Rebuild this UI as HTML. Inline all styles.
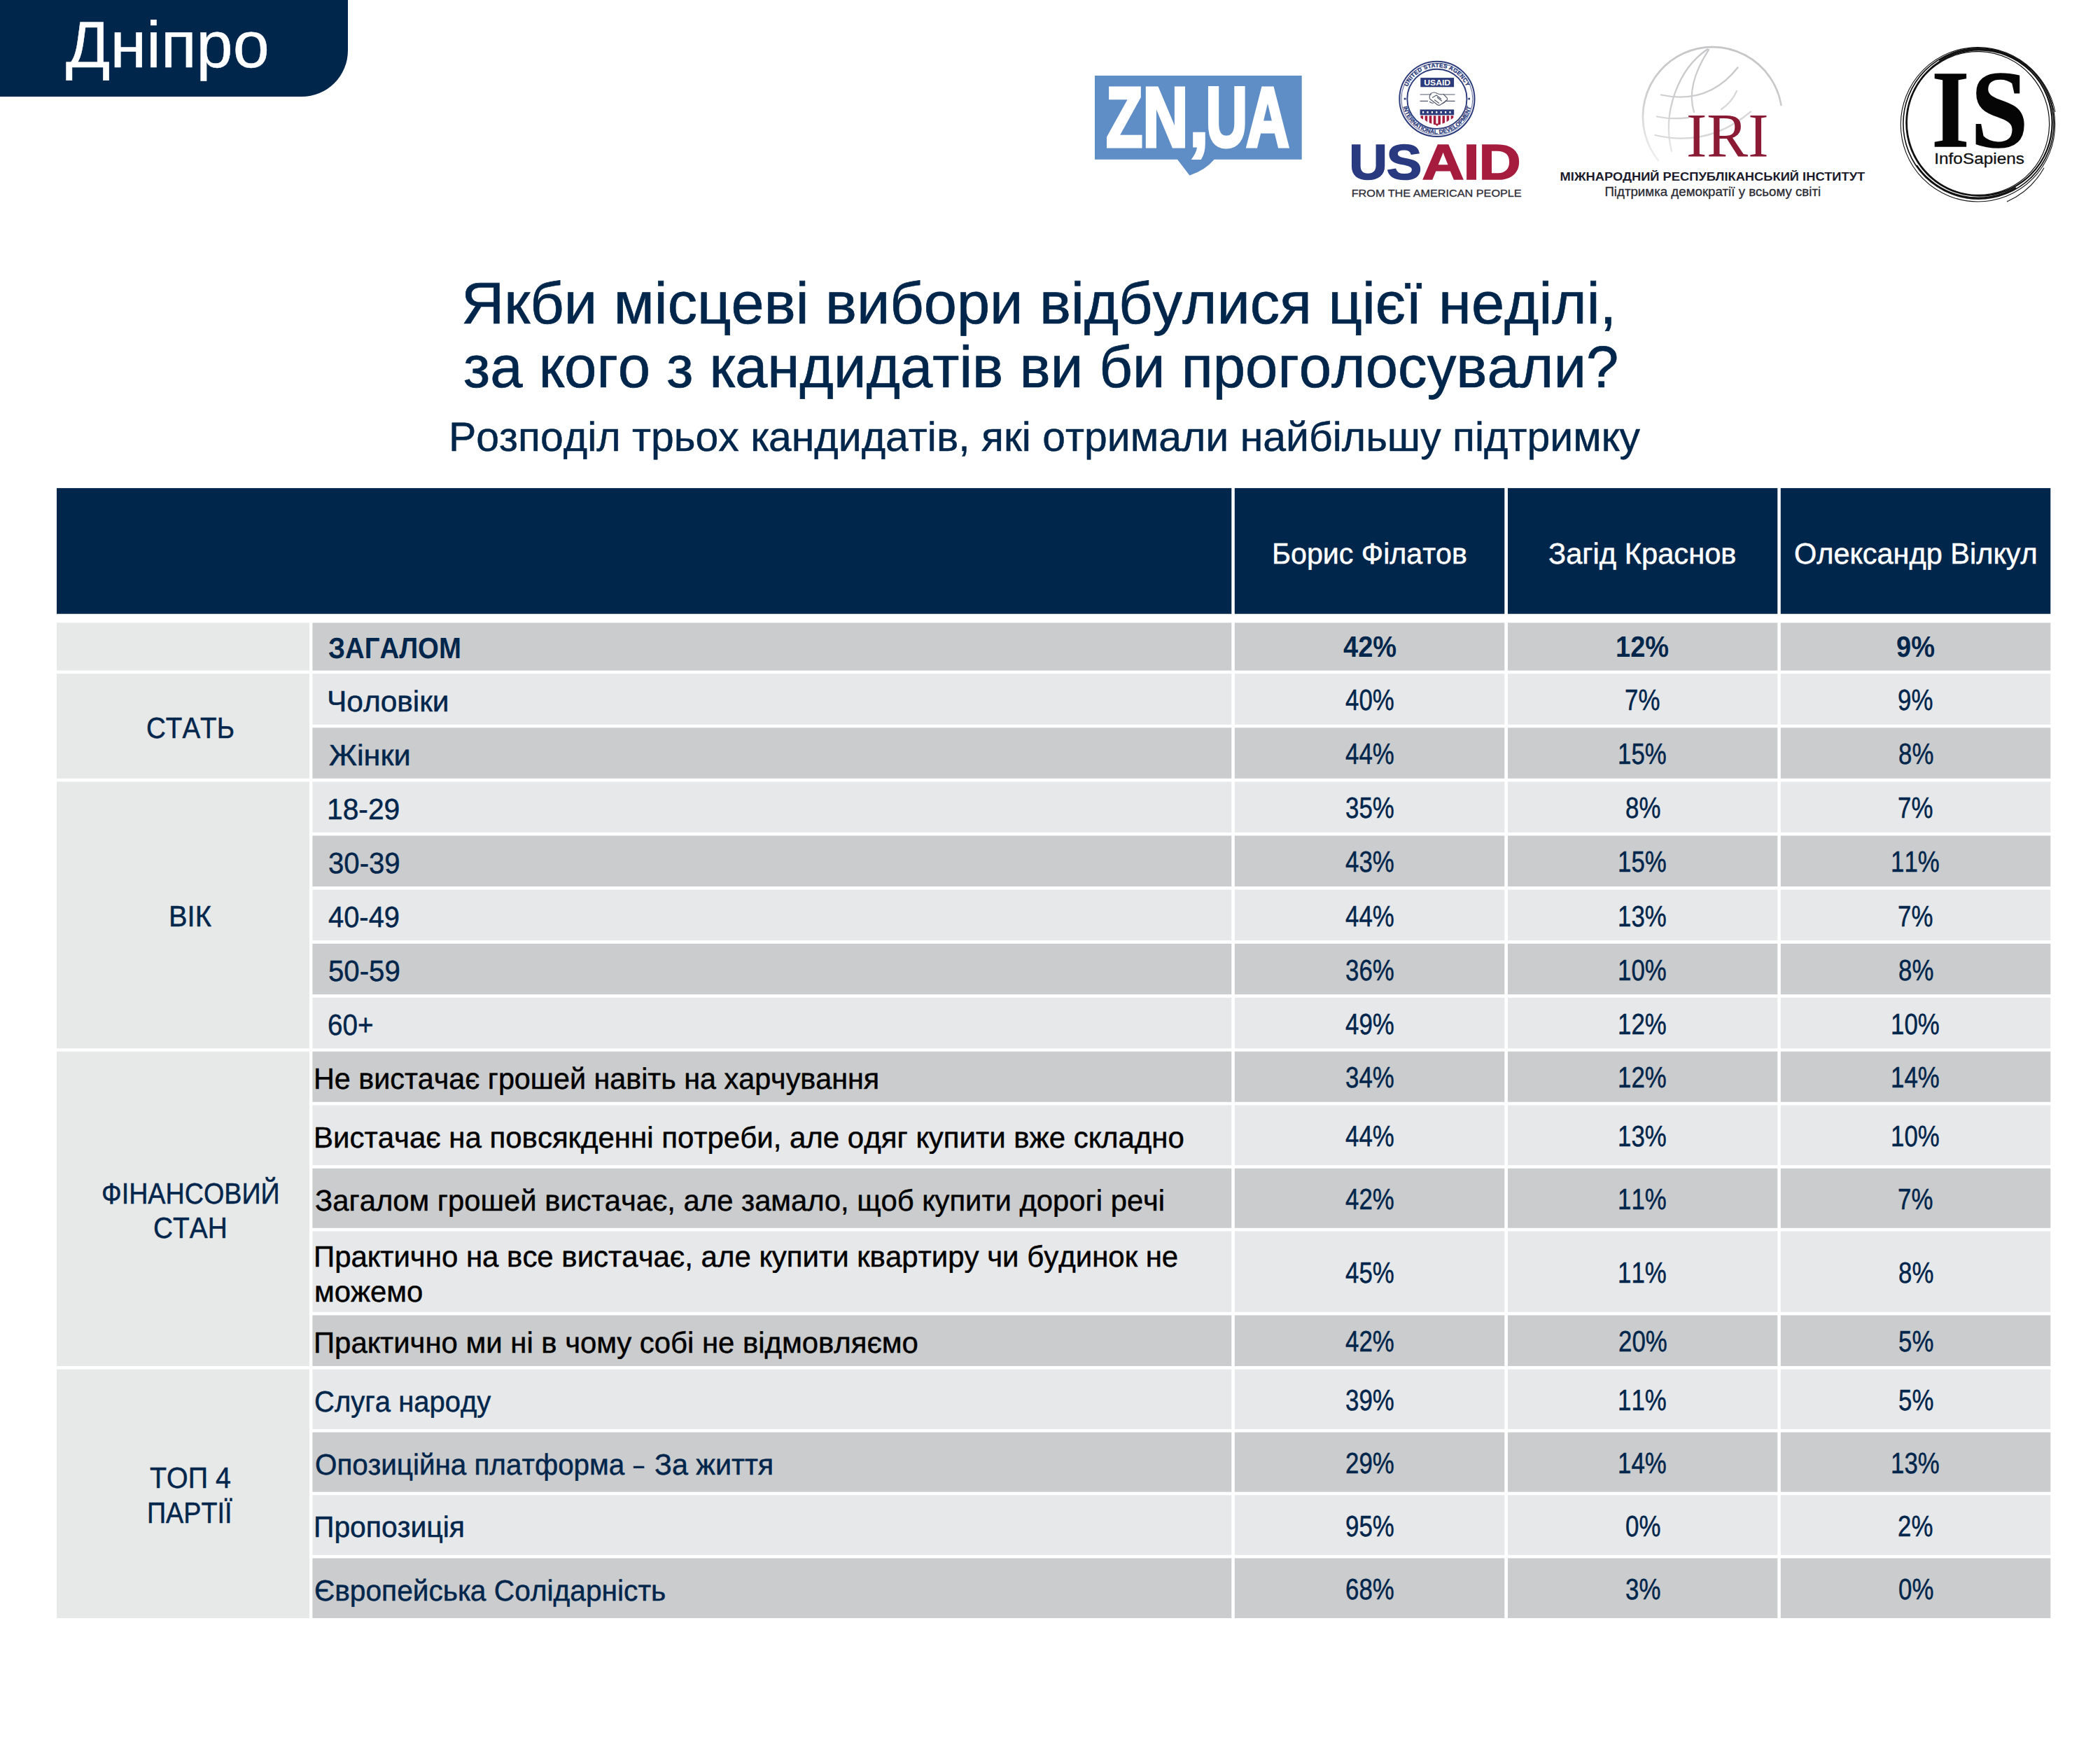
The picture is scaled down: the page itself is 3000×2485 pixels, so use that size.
<!DOCTYPE html>
<html lang="uk">
<head>
<meta charset="utf-8">
<title>Дніпро</title>
<style>
html,body{margin:0;padding:0;background:#fff;}
body{width:3000px;height:2485px;position:relative;overflow:hidden;font-family:"Liberation Sans",sans-serif;color:#00264b;}
.tab{position:absolute;left:0;top:0;width:496.8px;height:138.1px;background:#00264b;border-bottom-right-radius:66px;}
svg.bg{position:absolute;left:0;top:0;}
.t{position:absolute;white-space:nowrap;font-kerning:none;text-rendering:geometricPrecision;line-height:0;height:0;transform-origin:0 0;-webkit-text-stroke:0.5px currentColor;}
.b{-webkit-text-stroke:0;}
.h{-webkit-text-stroke:0.7px currentColor;}
.s{-webkit-text-stroke:0.5px currentColor;}
</style>
</head>
<body>
<div class="tab"></div>
<svg class="bg" width="3000" height="2485" viewBox="0 0 3000 2485">
<rect x="81.0" y="697.1" width="1678.3" height="179.6" fill="#00264b"/>
<rect x="1763.8" y="697.1" width="385.5" height="179.6" fill="#00264b"/>
<rect x="2154.0" y="697.1" width="385.3" height="179.6" fill="#00264b"/>
<rect x="2543.8" y="697.1" width="385.5" height="179.6" fill="#00264b"/>
<rect x="81.0" y="889.4" width="361.0" height="68.2" fill="#e7e8e8"/>
<rect x="81.0" y="962.2" width="361.0" height="149.6" fill="#e7e8e8"/>
<rect x="81.0" y="1116.4" width="361.0" height="380.9" fill="#e7e8e8"/>
<rect x="81.0" y="1501.7" width="361.0" height="449.3" fill="#e7e8e8"/>
<rect x="81.0" y="1955.6" width="361.0" height="355.4" fill="#e7e8e8"/>
<rect x="446.4" y="889.4" width="1312.9" height="68.2" fill="#cbccce"/>
<rect x="1763.8" y="889.4" width="385.5" height="68.2" fill="#cbccce"/>
<rect x="2154.0" y="889.4" width="385.3" height="68.2" fill="#cbccce"/>
<rect x="2543.8" y="889.4" width="385.5" height="68.2" fill="#cbccce"/>
<rect x="446.4" y="962.2" width="1312.9" height="72.6" fill="#e7e8ea"/>
<rect x="1763.8" y="962.2" width="385.5" height="72.6" fill="#e7e8ea"/>
<rect x="2154.0" y="962.2" width="385.3" height="72.6" fill="#e7e8ea"/>
<rect x="2543.8" y="962.2" width="385.5" height="72.6" fill="#e7e8ea"/>
<rect x="446.4" y="1039.3" width="1312.9" height="72.5" fill="#cbccce"/>
<rect x="1763.8" y="1039.3" width="385.5" height="72.5" fill="#cbccce"/>
<rect x="2154.0" y="1039.3" width="385.3" height="72.5" fill="#cbccce"/>
<rect x="2543.8" y="1039.3" width="385.5" height="72.5" fill="#cbccce"/>
<rect x="446.4" y="1116.4" width="1312.9" height="72.5" fill="#e7e8ea"/>
<rect x="1763.8" y="1116.4" width="385.5" height="72.5" fill="#e7e8ea"/>
<rect x="2154.0" y="1116.4" width="385.3" height="72.5" fill="#e7e8ea"/>
<rect x="2543.8" y="1116.4" width="385.5" height="72.5" fill="#e7e8ea"/>
<rect x="446.4" y="1193.5" width="1312.9" height="72.5" fill="#cbccce"/>
<rect x="1763.8" y="1193.5" width="385.5" height="72.5" fill="#cbccce"/>
<rect x="2154.0" y="1193.5" width="385.3" height="72.5" fill="#cbccce"/>
<rect x="2543.8" y="1193.5" width="385.5" height="72.5" fill="#cbccce"/>
<rect x="446.4" y="1270.6" width="1312.9" height="72.5" fill="#e7e8ea"/>
<rect x="1763.8" y="1270.6" width="385.5" height="72.5" fill="#e7e8ea"/>
<rect x="2154.0" y="1270.6" width="385.3" height="72.5" fill="#e7e8ea"/>
<rect x="2543.8" y="1270.6" width="385.5" height="72.5" fill="#e7e8ea"/>
<rect x="446.4" y="1347.7" width="1312.9" height="72.5" fill="#cbccce"/>
<rect x="1763.8" y="1347.7" width="385.5" height="72.5" fill="#cbccce"/>
<rect x="2154.0" y="1347.7" width="385.3" height="72.5" fill="#cbccce"/>
<rect x="2543.8" y="1347.7" width="385.5" height="72.5" fill="#cbccce"/>
<rect x="446.4" y="1424.8" width="1312.9" height="72.5" fill="#e7e8ea"/>
<rect x="1763.8" y="1424.8" width="385.5" height="72.5" fill="#e7e8ea"/>
<rect x="2154.0" y="1424.8" width="385.3" height="72.5" fill="#e7e8ea"/>
<rect x="2543.8" y="1424.8" width="385.5" height="72.5" fill="#e7e8ea"/>
<rect x="446.4" y="1501.7" width="1312.9" height="72.1" fill="#cbccce"/>
<rect x="1763.8" y="1501.7" width="385.5" height="72.1" fill="#cbccce"/>
<rect x="2154.0" y="1501.7" width="385.3" height="72.1" fill="#cbccce"/>
<rect x="2543.8" y="1501.7" width="385.5" height="72.1" fill="#cbccce"/>
<rect x="446.4" y="1578.4" width="1312.9" height="85.7" fill="#e7e8ea"/>
<rect x="1763.8" y="1578.4" width="385.5" height="85.7" fill="#e7e8ea"/>
<rect x="2154.0" y="1578.4" width="385.3" height="85.7" fill="#e7e8ea"/>
<rect x="2543.8" y="1578.4" width="385.5" height="85.7" fill="#e7e8ea"/>
<rect x="446.4" y="1668.7" width="1312.9" height="85.1" fill="#cbccce"/>
<rect x="1763.8" y="1668.7" width="385.5" height="85.1" fill="#cbccce"/>
<rect x="2154.0" y="1668.7" width="385.3" height="85.1" fill="#cbccce"/>
<rect x="2543.8" y="1668.7" width="385.5" height="85.1" fill="#cbccce"/>
<rect x="446.4" y="1758.4" width="1312.9" height="115.4" fill="#e7e8ea"/>
<rect x="1763.8" y="1758.4" width="385.5" height="115.4" fill="#e7e8ea"/>
<rect x="2154.0" y="1758.4" width="385.3" height="115.4" fill="#e7e8ea"/>
<rect x="2543.8" y="1758.4" width="385.5" height="115.4" fill="#e7e8ea"/>
<rect x="446.4" y="1878.4" width="1312.9" height="72.6" fill="#cbccce"/>
<rect x="1763.8" y="1878.4" width="385.5" height="72.6" fill="#cbccce"/>
<rect x="2154.0" y="1878.4" width="385.3" height="72.6" fill="#cbccce"/>
<rect x="2543.8" y="1878.4" width="385.5" height="72.6" fill="#cbccce"/>
<rect x="446.4" y="1955.6" width="1312.9" height="85.4" fill="#e7e8ea"/>
<rect x="1763.8" y="1955.6" width="385.5" height="85.4" fill="#e7e8ea"/>
<rect x="2154.0" y="1955.6" width="385.3" height="85.4" fill="#e7e8ea"/>
<rect x="2543.8" y="1955.6" width="385.5" height="85.4" fill="#e7e8ea"/>
<rect x="446.4" y="2045.6" width="1312.9" height="85.1" fill="#cbccce"/>
<rect x="1763.8" y="2045.6" width="385.5" height="85.1" fill="#cbccce"/>
<rect x="2154.0" y="2045.6" width="385.3" height="85.1" fill="#cbccce"/>
<rect x="2543.8" y="2045.6" width="385.5" height="85.1" fill="#cbccce"/>
<rect x="446.4" y="2135.3" width="1312.9" height="85.5" fill="#e7e8ea"/>
<rect x="1763.8" y="2135.3" width="385.5" height="85.5" fill="#e7e8ea"/>
<rect x="2154.0" y="2135.3" width="385.3" height="85.5" fill="#e7e8ea"/>
<rect x="2543.8" y="2135.3" width="385.5" height="85.5" fill="#e7e8ea"/>
<rect x="446.4" y="2225.4" width="1312.9" height="85.6" fill="#cbccce"/>
<rect x="1763.8" y="2225.4" width="385.5" height="85.6" fill="#cbccce"/>
<rect x="2154.0" y="2225.4" width="385.3" height="85.6" fill="#cbccce"/>
<rect x="2543.8" y="2225.4" width="385.5" height="85.6" fill="#cbccce"/>
<!-- ZN,UA -->
<g id="znua">
<path d="M1564 107.9H1859.7V227.8H1734.6Q1722 243 1699.4 250.6L1682 227.8H1564Z" fill="#5f8dc6"/>
<g font-family="'Liberation Sans',sans-serif" font-weight="700" font-size="120" fill="#fff" stroke="#fff" stroke-width="5" stroke-linejoin="miter">
<text transform="translate(1580.3,209.3) scale(0.708,1)">Z</text>
<text transform="translate(1632.8,209.3) scale(0.744,1)">N</text>
<text transform="translate(1699.5,207.5) scale(0.8,0.95)">,</text>
<text transform="translate(1722.8,209.3) scale(0.682,1)">U</text>
<text transform="translate(1780.3,209.3) scale(0.71,1)">A</text>
</g>
</g>
<!-- USAID -->
<g id="usaid" font-family="'Liberation Sans',sans-serif">
<circle cx="2052.9" cy="141.3" r="53.6" fill="#fff" stroke="#2a3a7a" stroke-width="2"/>
<circle cx="2052.9" cy="141.3" r="51" fill="none" stroke="#2a3a7a" stroke-width="0.8"/>
<circle cx="2052.9" cy="141.3" r="42.6" fill="none" stroke="#2a3a7a" stroke-width="1.9"/>
<path id="usTop" d="M2007.5 141.3A45.4 45.4 0 0 1 2098.3 141.3" fill="none"/>
<path id="usBot" d="M2003.2 141.3A49.7 49.7 0 0 0 2102.6 141.3" fill="none"/>
<text font-size="8.2" font-weight="700" fill="#2a3a7a" stroke="#2a3a7a" stroke-width="0.3" letter-spacing="0.3"><textPath href="#usTop" startOffset="50%" text-anchor="middle">UNITED STATES AGENCY</textPath></text>
<text font-size="8.2" font-weight="700" fill="#2a3a7a" stroke="#2a3a7a" stroke-width="0.3" letter-spacing="0.1"><textPath href="#usBot" startOffset="50%" text-anchor="middle">INTERNATIONAL DEVELOPMENT</textPath></text>
<rect x="2005.8" y="139.8" width="2.6" height="2.6" fill="#2a3a7a"/><rect x="2097.4" y="139.8" width="2.6" height="2.6" fill="#2a3a7a"/>
<rect x="2029.3" y="111.1" width="47.8" height="13.2" fill="#2a3a7a"/>
<text x="2053.2" y="122.2" font-size="11.6" font-weight="700" fill="#fff" text-anchor="middle" textLength="38" lengthAdjust="spacingAndGlyphs">USAID</text>
<g stroke="#555a6e" stroke-width="1.15" fill="none">
<path d="M2028.6 135H2045M2062 135H2078.6M2028.6 144.3H2040M2066 144.3H2078.6"/>
<path d="M2044 133.5q5-3 9 0q5 2 9 1l5 5q2 3-2 5l-7 5q-3 2-6-1l-9-7q-2-3 1-8z"/>
<path d="M2046 139.5l6-3.5l7 5.5M2049 142.5l7 5M2053 139l7 5.5M2042 145q3 3 6 2M2060 148q4-1 6-5"/>
</g>
<rect x="2028.6" y="156.4" width="48.6" height="7.9" fill="#2a3a7a"/>
<g fill="#fff"><rect x="2032" y="159" width="2.2" height="2.6"/><rect x="2038.4" y="159" width="2.2" height="2.6"/><rect x="2044.8" y="159" width="2.2" height="2.6"/><rect x="2051.2" y="159" width="2.2" height="2.6"/><rect x="2057.6" y="159" width="2.2" height="2.6"/><rect x="2064" y="159" width="2.2" height="2.6"/><rect x="2070.4" y="159" width="2.2" height="2.6"/></g>
<g fill="#a51c3f">
<path d="M2029.5 165.2h3.6v5.5l-3.6-2.5z"/><path d="M2035.6 165.2h3.6v9l-3.6-2.6z"/><path d="M2041.7 165.2h3.6v11.6l-3.6-1.6z"/><path d="M2047.8 165.2h3.6v13.2l-3.6-1z"/>
<path d="M2072.7 165.2h3.6v3l-3.6 2.5z"/><path d="M2066.6 165.2h3.6v6.4l-3.6 2.6z"/><path d="M2060.5 165.2h3.6v10l-3.6 1.6z"/><path d="M2054.4 165.2h3.6v12.2l-3.6 1z"/>
<path d="M2051 176.5h3.8v1.6l-1.9 2.2l-1.9-2.2z"/>
</g>
<text transform="translate(1927.2,256.3) scale(1.083,1)" font-size="70" font-weight="700" fill="#2a3a80" stroke="#2a3a80" stroke-width="1.6" letter-spacing="-1">US</text>
<text transform="translate(2031.6,256.3) scale(1.19,1)" font-size="70" font-weight="700" fill="#a51c3f" stroke="#a51c3f" stroke-width="1.6" letter-spacing="-1">AID</text>
<text x="1930.7" y="281.4" font-size="14.5" fill="#2e2e38" stroke="#2e2e38" stroke-width="0.3" textLength="243" lengthAdjust="spacingAndGlyphs">FROM THE AMERICAN PEOPLE</text>
</g>
<!-- IRI -->
<g id="iri">
<linearGradient id="gl" gradientUnits="userSpaceOnUse" x1="2440" y1="70" x2="2400" y2="236"><stop offset="0" stop-color="#c6c6c8"/><stop offset="0.55" stop-color="#cfcfd1"/><stop offset="1" stop-color="#efeff0"/></linearGradient>
<g fill="none" stroke="url(#gl)" stroke-width="2.3" stroke-linecap="round">
<path d="M2369.1 229.3A99.5 99.5 0 1 1 2544.5 149.9" stroke-width="2.7"/>
<path d="M2439 70.5C2398 98 2374 160 2388 216"/>
<path d="M2441 71Q2408 122 2420 160"/>
<path d="M2373 135.5Q2440 150 2482.5 96.5"/>
<path d="M2367 166.5Q2388 171 2412 168"/>
<path d="M2459 156Q2474 146 2481 130" stroke="#d8d8da"/>
<path d="M2364.5 193Q2440 211 2501 159.5" stroke="#d8d8da"/>
</g>
<text x="2409" y="222.6" font-family="'Liberation Serif',serif" font-size="89" fill="#8b1a35" textLength="117.5" lengthAdjust="spacingAndGlyphs">IRI</text>
<text x="2228.6" y="258.3" font-family="'Liberation Sans',sans-serif" font-weight="700" font-size="17.2" fill="#1b1b2b" textLength="435.7" lengthAdjust="spacingAndGlyphs">МІЖНАРОДНИЙ РЕСПУБЛІКАНСЬКИЙ ІНСТИТУТ</text>
<text x="2292.4" y="280" font-family="'Liberation Sans',sans-serif" font-size="18.6" fill="#2a2a33" stroke="#2a2a33" stroke-width="0.3" textLength="308.8" lengthAdjust="spacingAndGlyphs">Підтримка демократії у всьому світі</text>
</g>
<!-- InfoSapiens -->
<g id="infosapiens">
<g fill="none" stroke="#111">
<circle cx="2826.5" cy="176.5" r="107.6" stroke-width="1.6"/>
<circle cx="2827.5" cy="175.5" r="104.2" stroke-width="2.2"/>
<circle cx="2825.5" cy="177.8" r="110.2" stroke-width="1.1"/>
<ellipse cx="2826" cy="176" rx="101.5" ry="102.6" stroke-width="1.2" transform="rotate(-20 2826 176)"/>
<path d="M2770 86A106 106 0 0 1 2900 100" stroke-width="2.4"/>
<path d="M2738 236A106.5 106.5 0 0 0 2880 268" stroke-width="2.2"/>
<path d="M2920 239.7A113 113 0 0 1 2867 288" stroke-width="1.1"/>
<path d="M2893 91A112 112 0 0 1 2936 160" stroke-width="1"/>
</g>
<text transform="translate(2759.8,208.8) scale(0.879,1)" font-family="'Liberation Serif',serif" font-weight="700" font-size="156" fill="#050505" stroke="#050505" stroke-width="1.5">I</text>
<text transform="translate(2815.6,208.8) scale(0.942,1)" font-family="'Liberation Serif',serif" font-weight="700" font-size="156" fill="#050505" stroke="#050505" stroke-width="1.5">S</text>
<text x="2763.3" y="234.2" font-family="'Liberation Sans',sans-serif" font-size="22.6" fill="#111" stroke="#111" stroke-width="0.3" textLength="128.6" lengthAdjust="spacingAndGlyphs">InfoSapiens</text>
</g>

</svg>
<div class="t" style="left:94.01px;top:63.59px;font-size:93.5px;color:#fff;transform:scaleX(1.0012);">Дніпро</div>
<div class="t h" style="left:659.03px;top:433.48px;font-size:84px;transform:scaleX(1.0084);">Якби місцеві вибори відбулися цієї неділі,</div>
<div class="t h" style="left:661.51px;top:523.98px;font-size:84px;transform:scaleX(0.9915);">за кого з кандидатів ви би проголосували?</div>
<div class="t s" style="left:641.26px;top:625.32px;font-size:58.5px;transform:scaleX(1.0076);">Розподіл трьох кандидатів, які отримали найбільшу підтримку</div>
<div class="t" style="left:1817.42px;top:791.14px;font-size:42px;color:#fff;transform:scaleX(0.9804);">Борис Філатов</div>
<div class="t" style="left:2212.44px;top:791.14px;font-size:42px;color:#fff;transform:scaleX(0.9921);">Загід Краснов</div>
<div class="t" style="left:2562.83px;top:791.14px;font-size:42px;color:#fff;transform:scaleX(0.9884);">Олександр Вілкул</div>
<div class="t b" style="left:469.34px;top:925.64px;font-size:42px;font-weight:700;transform:scaleX(0.9135);">ЗАГАЛОМ</div>
<div class="t b" style="left:1919.03px;top:923.94px;font-size:42px;font-weight:700;transform:scaleX(0.9050);">42%</div>
<div class="t b" style="left:2308.22px;top:923.94px;font-size:42px;font-weight:700;transform:scaleX(0.9050);">12%</div>
<div class="t b" style="left:2709.22px;top:923.94px;font-size:42px;font-weight:700;transform:scaleX(0.9050);">9%</div>
<div class="t" style="left:466.88px;top:1001.94px;font-size:42px;transform:scaleX(1.0108);">Чоловіки</div>
<div class="t" style="left:1922.19px;top:1000.24px;font-size:42px;transform:scaleX(0.8300);">40%</div>
<div class="t" style="left:2321.49px;top:1000.24px;font-size:42px;transform:scaleX(0.8300);">7%</div>
<div class="t" style="left:2711.46px;top:1000.24px;font-size:42px;transform:scaleX(0.8300);">9%</div>
<div class="t" style="left:469.61px;top:1078.99px;font-size:42px;transform:scaleX(1.0314);">Жінки</div>
<div class="t" style="left:1922.19px;top:1077.29px;font-size:42px;transform:scaleX(0.8300);">44%</div>
<div class="t" style="left:2311.36px;top:1077.29px;font-size:42px;transform:scaleX(0.8300);">15%</div>
<div class="t" style="left:2711.52px;top:1077.29px;font-size:42px;transform:scaleX(0.8300);">8%</div>
<div class="t" style="left:467.10px;top:1156.09px;font-size:42px;transform:scaleX(0.9703);">18-29</div>
<div class="t" style="left:1921.92px;top:1154.39px;font-size:42px;transform:scaleX(0.8300);">35%</div>
<div class="t" style="left:2321.62px;top:1154.39px;font-size:42px;transform:scaleX(0.8300);">8%</div>
<div class="t" style="left:2711.39px;top:1154.39px;font-size:42px;transform:scaleX(0.8300);">7%</div>
<div class="t" style="left:468.67px;top:1233.19px;font-size:42px;transform:scaleX(0.9554);">30-39</div>
<div class="t" style="left:1922.19px;top:1231.49px;font-size:42px;transform:scaleX(0.8300);">43%</div>
<div class="t" style="left:2311.36px;top:1231.49px;font-size:42px;transform:scaleX(0.8300);">15%</div>
<div class="t" style="left:2701.26px;top:1231.49px;font-size:42px;transform:scaleX(0.8300);">11%</div>
<div class="t" style="left:469.28px;top:1310.29px;font-size:42px;transform:scaleX(0.9496);">40-49</div>
<div class="t" style="left:1922.19px;top:1308.59px;font-size:42px;transform:scaleX(0.8300);">44%</div>
<div class="t" style="left:2311.36px;top:1308.59px;font-size:42px;transform:scaleX(0.8300);">13%</div>
<div class="t" style="left:2711.39px;top:1308.59px;font-size:42px;transform:scaleX(0.8300);">7%</div>
<div class="t" style="left:468.59px;top:1387.39px;font-size:42px;transform:scaleX(0.9562);">50-59</div>
<div class="t" style="left:1921.92px;top:1385.69px;font-size:42px;transform:scaleX(0.8300);">36%</div>
<div class="t" style="left:2311.36px;top:1385.69px;font-size:42px;transform:scaleX(0.8300);">10%</div>
<div class="t" style="left:2711.52px;top:1385.69px;font-size:42px;transform:scaleX(0.8300);">8%</div>
<div class="t" style="left:468.24px;top:1464.49px;font-size:42px;transform:scaleX(0.9203);">60+</div>
<div class="t" style="left:1922.19px;top:1462.79px;font-size:42px;transform:scaleX(0.8300);">49%</div>
<div class="t" style="left:2311.36px;top:1462.79px;font-size:42px;transform:scaleX(0.8300);">12%</div>
<div class="t" style="left:2701.26px;top:1462.79px;font-size:42px;transform:scaleX(0.8300);">10%</div>
<div class="t" style="left:448.11px;top:1541.09px;font-size:42.3px;color:#000;transform:scaleX(0.9764);">Не вистачає грошей навіть на харчування</div>
<div class="t" style="left:1921.92px;top:1539.49px;font-size:42px;transform:scaleX(0.8300);">34%</div>
<div class="t" style="left:2311.36px;top:1539.49px;font-size:42px;transform:scaleX(0.8300);">12%</div>
<div class="t" style="left:2701.26px;top:1539.49px;font-size:42px;transform:scaleX(0.8300);">14%</div>
<div class="t" style="left:448.06px;top:1624.59px;font-size:42.3px;color:#000;transform:scaleX(0.9925);">Вистачає на повсякденні потреби, але одяг купити вже складно</div>
<div class="t" style="left:1922.19px;top:1622.99px;font-size:42px;transform:scaleX(0.8300);">44%</div>
<div class="t" style="left:2311.36px;top:1622.99px;font-size:42px;transform:scaleX(0.8300);">13%</div>
<div class="t" style="left:2701.26px;top:1622.99px;font-size:42px;transform:scaleX(0.8300);">10%</div>
<div class="t" style="left:450.13px;top:1714.59px;font-size:42.3px;color:#000;transform:scaleX(0.9876);">Загалом грошей вистачає, але замало, щоб купити дорогі речі</div>
<div class="t" style="left:1922.19px;top:1712.99px;font-size:42px;transform:scaleX(0.8300);">42%</div>
<div class="t" style="left:2311.36px;top:1712.99px;font-size:42px;transform:scaleX(0.8300);">11%</div>
<div class="t" style="left:2711.39px;top:1712.99px;font-size:42px;transform:scaleX(0.8300);">7%</div>
<div class="t" style="left:448.10px;top:1795.14px;font-size:42.3px;color:#000;transform:scaleX(0.9922);">Практично на все вистачає, але купити квартиру чи будинок не</div>
<div class="t" style="left:448.60px;top:1845.04px;font-size:42.3px;color:#000;transform:scaleX(0.9880);">можемо</div>
<div class="t" style="left:1922.19px;top:1817.84px;font-size:42px;transform:scaleX(0.8300);">45%</div>
<div class="t" style="left:2311.36px;top:1817.84px;font-size:42px;transform:scaleX(0.8300);">11%</div>
<div class="t" style="left:2711.52px;top:1817.84px;font-size:42px;transform:scaleX(0.8300);">8%</div>
<div class="t" style="left:448.10px;top:1918.04px;font-size:42.3px;color:#000;transform:scaleX(0.9902);">Практично ми ні в чому собі не відмовляємо</div>
<div class="t" style="left:1922.19px;top:1916.44px;font-size:42px;transform:scaleX(0.8300);">42%</div>
<div class="t" style="left:2311.81px;top:1916.44px;font-size:42px;transform:scaleX(0.8300);">20%</div>
<div class="t" style="left:2711.58px;top:1916.44px;font-size:42px;transform:scaleX(0.8300);">5%</div>
<div class="t" style="left:449.47px;top:2001.74px;font-size:42px;transform:scaleX(0.9523);">Слуга народу</div>
<div class="t" style="left:1921.92px;top:2000.04px;font-size:42px;transform:scaleX(0.8300);">39%</div>
<div class="t" style="left:2311.36px;top:2000.04px;font-size:42px;transform:scaleX(0.8300);">11%</div>
<div class="t" style="left:2711.58px;top:2000.04px;font-size:42px;transform:scaleX(0.8300);">5%</div>
<div class="t" style="left:449.59px;top:2091.59px;font-size:42px;transform:scaleX(0.9617);">Опозиційна платформа</div>
<div class="t" style="left:905.20px;top:2091.59px;font-size:42px;transform:scaleX(0.6427);">–</div>
<div class="t" style="left:934.55px;top:2091.59px;font-size:42px;transform:scaleX(0.9829);">За життя</div>
<div class="t" style="left:1921.71px;top:2089.89px;font-size:42px;transform:scaleX(0.8300);">29%</div>
<div class="t" style="left:2311.36px;top:2089.89px;font-size:42px;transform:scaleX(0.8300);">14%</div>
<div class="t" style="left:2701.26px;top:2089.89px;font-size:42px;transform:scaleX(0.8300);">13%</div>
<div class="t" style="left:448.19px;top:2181.49px;font-size:42px;transform:scaleX(0.9734);">Пропозиція</div>
<div class="t" style="left:1921.77px;top:2179.79px;font-size:42px;transform:scaleX(0.8300);">95%</div>
<div class="t" style="left:2321.70px;top:2179.79px;font-size:42px;transform:scaleX(0.8300);">0%</div>
<div class="t" style="left:2711.40px;top:2179.79px;font-size:42px;transform:scaleX(0.8300);">2%</div>
<div class="t" style="left:449.43px;top:2271.64px;font-size:42px;transform:scaleX(0.9687);">Європейська Солідарність</div>
<div class="t" style="left:1921.70px;top:2269.94px;font-size:42px;transform:scaleX(0.8300);">68%</div>
<div class="t" style="left:2321.72px;top:2269.94px;font-size:42px;transform:scaleX(0.8300);">3%</div>
<div class="t" style="left:2711.60px;top:2269.94px;font-size:42px;transform:scaleX(0.8300);">0%</div>
<div class="t" style="left:209.04px;top:1039.74px;font-size:42px;transform:scaleX(0.9179);">СТАТЬ</div>
<div class="t" style="left:240.63px;top:1309.24px;font-size:42px;transform:scaleX(0.9494);">ВІК</div>
<div class="t" style="left:145.03px;top:1705.24px;font-size:42px;transform:scaleX(0.8978);">ФІНАНСОВИЙ</div>
<div class="t" style="left:219.43px;top:1754.24px;font-size:42px;transform:scaleX(0.9249);">СТАН</div>
<div class="t" style="left:213.62px;top:2111.44px;font-size:42px;transform:scaleX(0.9377);">ТОП 4</div>
<div class="t" style="left:209.74px;top:2161.44px;font-size:42px;transform:scaleX(0.8975);">ПАРТІЇ</div>
</body>
</html>
